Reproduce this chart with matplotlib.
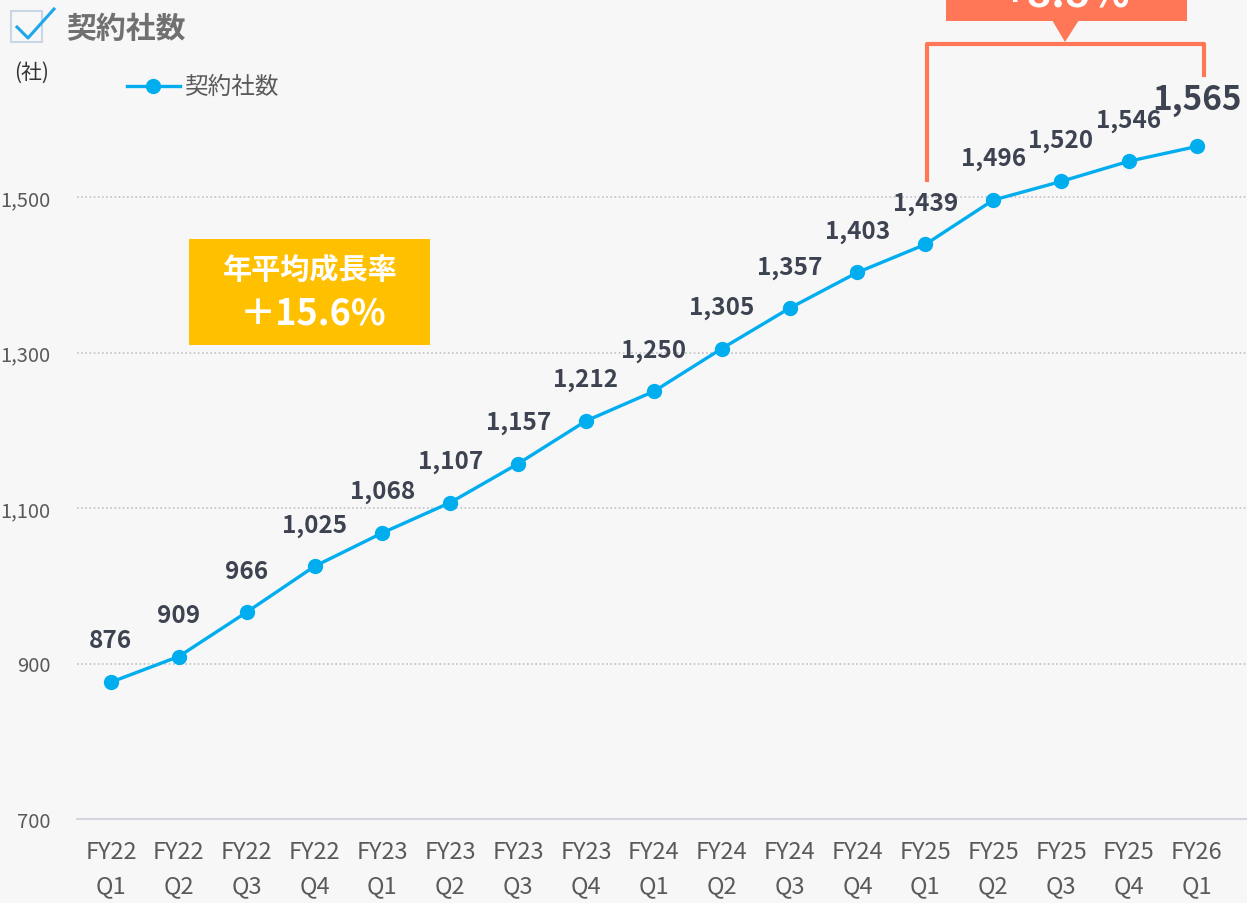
import matplotlib.pyplot as plt
from matplotlib.patches import Rectangle, Polygon
from matplotlib.lines import Line2D

plt.rcParams['font.family'] = ['Noto Sans CJK JP', 'DejaVu Sans']

quarters = ['FY22\nQ1', 'FY22\nQ2', 'FY22\nQ3', 'FY22\nQ4',
            'FY23\nQ1', 'FY23\nQ2', 'FY23\nQ3', 'FY23\nQ4',
            'FY24\nQ1', 'FY24\nQ2', 'FY24\nQ3', 'FY24\nQ4',
            'FY25\nQ1', 'FY25\nQ2', 'FY25\nQ3', 'FY25\nQ4',
            'FY26\nQ1']
companies = [876, 909, 966, 1025, 1068, 1107, 1157, 1212, 1250,
             1305, 1357, 1403, 1439, 1496, 1520, 1546, 1565]
y_ticks = [700, 900, 1100, 1300, 1500]

W, H = 1247, 904
BG = '#f7f7f8'
BLUE = '#00adef'
DARK = '#3d4350'
GRAY = '#5a5a5a'
ORANGE = '#ff7757'
YELLOW = '#ffc000'


def px(x, y):
    # pixel position (from top-left) -> figure fraction
    return x / W, 1 - y / H


fig = plt.figure(figsize=(W / 100, H / 100), dpi=100, facecolor=BG)
ax = fig.add_axes([77 / W, 84 / H, 1170 / W, 820 / H], facecolor=BG)

x = list(range(len(companies)))
ax.plot(x, companies, color=BLUE, lw=2.4, marker='o', ms=10,
        label='契約社数', clip_on=False)

for i, v in enumerate(companies):
    last = i == len(companies) - 1
    ax.annotate(f'{v:,}', (i, v), xytext=(0, 34 if last else 30),
                textcoords='offset points', ha='center', va='center',
                fontsize=24 if last else 17.5, fontweight='bold', color=DARK)

ax.set_xlim(-0.5, 16.74)
ax.set_ylim(700, 700 + 820 / 0.7775)
ax.set_xticks(x)
ax.set_xticklabels(quarters, fontsize=17, color=GRAY, linespacing=1.62)
ax.set_yticks(y_ticks)
ax.set_yticklabels([f'{t:,}' for t in y_ticks], fontsize=14.5, color=GRAY)
ax.tick_params(axis='x', length=0, pad=15)
ax.tick_params(axis='y', length=0, pad=19)

for t in y_ticks[1:]:
    ax.axhline(t, color='#bfc1c6', lw=1.2, ls=(0, (1, 1.5)), zorder=0)
for s in ['top', 'right', 'left']:
    ax.spines[s].set_visible(False)
ax.spines['bottom'].set_color('#d3d6de')
ax.spines['bottom'].set_linewidth(1.5)

# legend
fig.add_artist(Line2D([127 / W, 180 / W], [1 - 87 / H] * 2, color=BLUE,
                      lw=2.4, marker=None))
fig.add_artist(Line2D([153 / W], [1 - 87 / H], color=BLUE, marker='o', ms=10))
fig.text(*px(184, 87), '契約社数', fontsize=17, color=GRAY, va='center')

# title with check box
fig.add_artist(Rectangle(px(11, 43), 31 / W, 31 / H, fill=False,
                         ec='#c8d6e6', lw=1.5))
cx, cy = zip(px(17, 28), px(28, 39), px(54, 10))
fig.add_artist(Line2D(cx, cy, color='#1ea7ea', lw=2.2))
fig.text(*px(66, 29), '契約社数', fontsize=21.5, fontweight='bold',
         color='#707070', va='center')
fig.text(*px(14, 73), '(社)', fontsize=15, color='#333333', va='center')

# CAGR box
fig.add_artist(Rectangle(px(189, 346), 241 / W, 106 / H, color=YELLOW, lw=0))
fig.text(*px(310, 270), '年平均成長率', fontsize=21, fontweight='bold',
         color='white', ha='center', va='center')
fig.text(*px(313, 314), '＋15.6%', fontsize=26, fontweight='bold',
         color='white', ha='center', va='center')

# growth bracket + callout
bx, by = zip(px(927, 181), px(927, 45), px(1204, 45), px(1204, 76))
fig.add_artist(Line2D(bx, by, color=ORANGE, lw=3))
fig.add_artist(Rectangle(px(946, 22), 241 / W, 30 / H, color=ORANGE, lw=0))
fig.add_artist(Polygon([px(1052, 21), px(1079, 21), px(1065, 43)],
                       closed=True, color=ORANGE, lw=0))
fig.text(*px(1066, 7), '+8.8%', fontsize=30, fontweight='bold',
         color='white', ha='center', va='baseline')

plt.savefig('out.png', dpi=100, facecolor=BG)
